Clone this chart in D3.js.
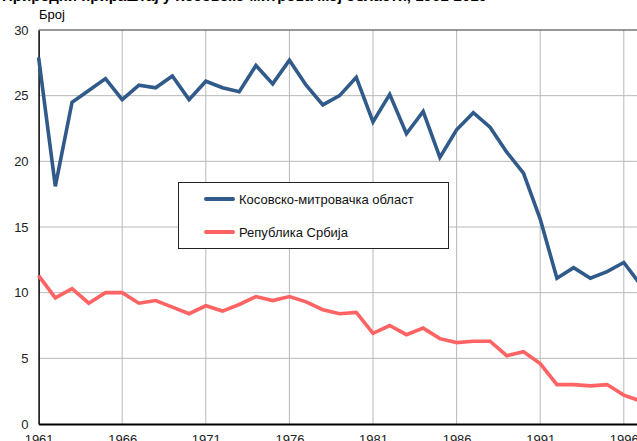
<!DOCTYPE html>
<html><head><meta charset="utf-8">
<script src="https://cdn.jsdelivr.net/npm/d3@7"></script>
<style>body{margin:0;background:#fff;overflow:hidden}svg{display:block}text{font-family:"Liberation Sans",Arial,sans-serif}</style>
</head><body>
<script>
const years = d3.range(1961, 1998);
const kosovskoMitrovacka = [27.9,18.1,24.5,25.4,26.3,24.7,25.8,25.6,26.5,24.7,26.1,25.6,25.3,27.3,25.9,27.7,25.8,24.3,25.0,26.4,23.0,25.1,22.1,23.8,20.3,22.4,23.7,22.6,20.7,19.1,15.6,11.1,11.9,11.1,11.6,12.3,10.6];
const srbija = [11.3,9.6,10.3,9.2,10.0,10.0,9.2,9.4,8.9,8.4,9.0,8.6,9.1,9.7,9.4,9.7,9.3,8.7,8.4,8.5,6.9,7.5,6.8,7.3,6.5,6.2,6.3,6.3,5.2,5.5,4.6,3.0,3.0,2.9,3.0,2.2,1.75];
const xTicks = [1961,1966,1971,1976,1981,1986,1991,1996,2001];
const yTicks = [0,5,10,15,20,25,30];
const seriesNames = ["Косовско-митровачка област","Република Србија"];
const colors = ["#305a89","#ff6363"];
const titleText = "Природни прираштај у Косовско-митровачкој области, 1961-2010";

const W = 637, H = 441;
const svg = d3.select("body").append("svg").attr("width", W).attr("height", H);
const x0 = 38.6, yearPx = 16.72;
const x = d3.scaleLinear().domain([1961, 2001]).range([x0, x0 + 40 * yearPx]);
const y = d3.scaleLinear().domain([0, 30]).range([424, 30]);

// title (mostly cropped, as in the reference)
svg.append("text").attr("x", 2).attr("y", 0.5).attr("font-weight", "bold").attr("font-size", 15).attr("fill", "#000").text(titleText);
svg.append("text").attr("x", 39).attr("y", 19).attr("font-size", 13).attr("fill", "#000").text("Број");

// grid
svg.append("g").selectAll("line").data(yTicks.filter(d => d > 0 && d < 30)).join("line")
  .attr("x1", x0).attr("x2", W).attr("y1", d => y(d)).attr("y2", d => y(d))
  .attr("stroke", "#b8b8b8").attr("stroke-width", 1);
svg.append("g").selectAll("line").data(xTicks.filter(d => d > 1961)).join("line")
  .attr("x1", d => x(d)).attr("x2", d => x(d)).attr("y1", 30).attr("y2", 424)
  .attr("stroke", "#b8b8b8").attr("stroke-width", 1);

// frame
svg.append("line").attr("x1", x0).attr("x2", W).attr("y1", 30).attr("y2", 30).attr("stroke", "#333").attr("stroke-width", 1);

// axes
const yAxis = d3.axisLeft(y).tickValues(yTicks).tickSize(0).tickPadding(10);
const gy = svg.append("g").attr("transform", `translate(${x0},0)`).call(yAxis);
gy.select(".domain").attr("stroke", "#000").attr("stroke-width", 1.5);
gy.selectAll("text").attr("font-size", 13).attr("fill", "#222").attr("font-family", '"Liberation Sans",Arial,sans-serif');

const xAxis = d3.axisBottom(x).tickValues(xTicks).tickSize(0).tickPadding(11).tickFormat(d3.format("d"));
const gx = svg.append("g").attr("transform", `translate(0,424)`).call(xAxis);
gx.select(".domain").attr("stroke", "#000").attr("stroke-width", 2);
gx.selectAll("text").attr("font-size", 13).attr("fill", "#222").attr("font-family", '"Liberation Sans",Arial,sans-serif');

// lines
const line = d3.line().x((d, i) => x(years[i])).y(d => y(d));
[srbija, kosovskoMitrovacka].forEach((s, k) => {
  svg.append("path").datum(s).attr("d", line).attr("fill", "none")
    .attr("stroke", k === 0 ? colors[1] : colors[0]).attr("stroke-width", 3.6)
    .attr("stroke-linejoin", "miter");
});

// legend
const lg = svg.append("g");
lg.append("rect").attr("x", 178.5).attr("y", 182.5).attr("width", 270).attr("height", 66)
  .attr("fill", "#fff").attr("stroke", "#222").attr("stroke-width", 1);
seriesNames.forEach((n, i) => {
  const ly = 199 + i * 33;
  lg.append("line").attr("x1", 206).attr("x2", 233).attr("y1", ly).attr("y2", ly)
    .attr("stroke", colors[i]).attr("stroke-width", 4).attr("stroke-linecap", "round");
  lg.append("text").attr("x", 239).attr("y", ly + 4.5).attr("font-size", 13).attr("fill", "#111").text(n);
});
</script>
</body></html>
